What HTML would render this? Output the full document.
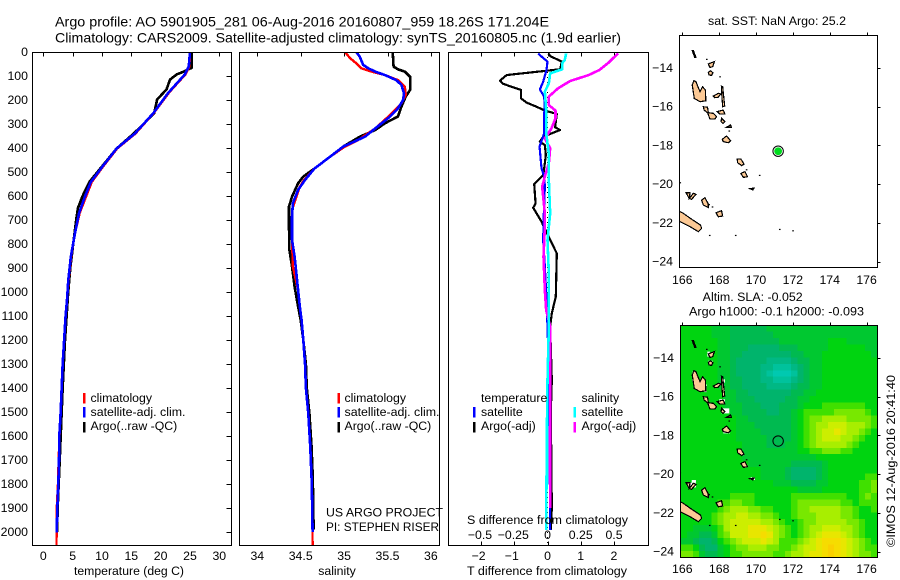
<!DOCTYPE html>
<html>
<head>
<meta charset="utf-8">
<title>Argo profile</title>
<style>
html,body{margin:0;padding:0;background:#fff;}
svg{display:block;font-family:"Liberation Sans",sans-serif;font-size:12.3px;fill:#000;}
</style>
</head>
<body>
<svg id="fig" xmlns="http://www.w3.org/2000/svg" width="900" height="580" viewBox="0 0 900 580">
<defs>
<clipPath id="clip-t"><rect x="32" y="52" width="200" height="493"/></clipPath>
<clipPath id="clip-s"><rect x="239" y="52" width="201" height="493"/></clipPath>
<clipPath id="clip-d"><rect x="448" y="52" width="201" height="493"/></clipPath>
<clipPath id="clip-m1"><rect x="679" y="35" width="199" height="233"/></clipPath>
<clipPath id="clip-m2"><rect x="680" y="325" width="198" height="233"/></clipPath>
</defs>
<rect width="900" height="580" fill="#fff"/>

<text x="55" y="26.5" font-size="14" textLength="494" lengthAdjust="spacingAndGlyphs">Argo profile: AO 5901905_281 06-Aug-2016 20160807_959 18.26S 171.204E</text>
<text x="55" y="42.5" font-size="14" textLength="566" lengthAdjust="spacingAndGlyphs">Climatology: CARS2009. Satellite-adjusted climatology: synTS_20160805.nc (1.9d earlier)</text>

<g id="heat" clip-path="url(#clip-m2)"></g>
<g id="nan2" clip-path="url(#clip-m2)"></g>
<g id="land1" clip-path="url(#clip-m1)"></g>
<g id="land2" clip-path="url(#clip-m2)"></g>
<g id="ticks"></g>
<g id="lines-t" clip-path="url(#clip-t)"></g>
<g id="lines-s" clip-path="url(#clip-s)"></g>
<g id="lines-d" clip-path="url(#clip-d)"></g>

<rect x="32.5" y="52.5" width="199" height="493" fill="none" stroke="#000" shape-rendering="crispEdges"/>
<rect x="239.5" y="52.5" width="200" height="493" fill="none" stroke="#000" shape-rendering="crispEdges"/>
<rect x="448.5" y="52.5" width="200" height="493" fill="none" stroke="#000" shape-rendering="crispEdges"/>
<rect x="679.5" y="35.5" width="198" height="232" fill="none" stroke="#000" shape-rendering="crispEdges"/>
<rect x="680.5" y="325.5" width="197" height="232" fill="none" stroke="#000" shape-rendering="crispEdges"/>

<g id="labels"></g>

<text x="74" y="575" textLength="110" lengthAdjust="spacingAndGlyphs">temperature (deg C)</text>
<text x="337" y="575" text-anchor="middle">salinity</text>
<text x="467" y="575" textLength="160" lengthAdjust="spacingAndGlyphs">T difference from climatology</text>
<text x="467" y="524" textLength="161" lengthAdjust="spacingAndGlyphs">S difference from climatology</text>

<g>
<rect x="83" y="393" width="2.5" height="10.5" fill="#f00"/>
<rect x="83" y="407" width="2.5" height="10.5" fill="#00f"/>
<rect x="83" y="422" width="2.5" height="10.5" fill="#000"/>
<text x="90.5" y="402">climatology</text>
<text x="90.5" y="416" textLength="95" lengthAdjust="spacingAndGlyphs">satellite-adj. clim.</text>
<text x="90.5" y="430">Argo(..raw -QC)</text>
</g>
<g>
<rect x="337.5" y="393" width="2.5" height="10.5" fill="#f00"/>
<rect x="337.5" y="407" width="2.5" height="10.5" fill="#00f"/>
<rect x="337.5" y="422" width="2.5" height="10.5" fill="#000"/>
<text x="344.5" y="402">climatology</text>
<text x="344.5" y="416" textLength="95" lengthAdjust="spacingAndGlyphs">satellite-adj. clim.</text>
<text x="344.5" y="430">Argo(..raw -QC)</text>
</g>
<g>
<text x="481" y="402">temperature</text>
<text x="581.5" y="402">salinity</text>
<rect x="473" y="407" width="2.5" height="10.5" fill="#00f"/>
<rect x="473" y="422" width="2.5" height="10.5" fill="#000"/>
<rect x="573.5" y="407" width="2.5" height="10.5" fill="#0ff"/>
<rect x="573.5" y="422" width="2.5" height="10.5" fill="#f0f"/>
<text x="481" y="416">satellite</text>
<text x="481" y="430">Argo(-adj)</text>
<text x="581.5" y="416">satellite</text>
<text x="581.5" y="430">Argo(-adj)</text>
</g>

<text x="326" y="516.5" textLength="117" lengthAdjust="spacingAndGlyphs">US ARGO PROJECT</text>
<text x="326" y="531" textLength="113" lengthAdjust="spacingAndGlyphs">PI: STEPHEN RISER</text>

<text x="708" y="25" textLength="138" lengthAdjust="spacingAndGlyphs">sat. SST: NaN Argo: 25.2</text>
<text x="702.7" y="301" textLength="100" lengthAdjust="spacingAndGlyphs">Altim. SLA: -0.052</text>
<text x="689" y="315.5" textLength="175" lengthAdjust="spacingAndGlyphs">Argo h1000: -0.1 h2000: -0.093</text>
<text transform="translate(895,547) rotate(-90)" textLength="172" lengthAdjust="spacingAndGlyphs">©IMOS 12-Aug-2016 20:41:40</text>
</svg>

<script>
// ---------- depth axis + profile data ----------
const depthTicks = [0,100,200,300,400,500,600,700,800,900,1000,1100,1200,1300,1400,1500,1600,1700,1800,1900,2000];
const tempTicks = [0,5,10,15,20,25,30];
const salTicks = [34,34.5,35,35.5,36];
const salTickLabels = ['34','34.5','35','35.5','36'];
const tDiffTicks = [-2,-1,0,1,2];
const tDiffTickLabels = ['−2','−1','0','1','2'];
const sDiffTicks = [-0.5,-0.25,0,0.25,0.5];
const sDiffTickLabels = ['−0.5','−0.25','0','0.25','0.5'];
const lonTicks = [166,168,170,172,174,176];
const latTicks = [14,16,18,20,22,24];

const tempClimDepth = [0,60,94,170,255,340,402,480,542,602,671,755,852,950,1033,1100,1200,1300,1400,1500,1600,1700,1800,1900,2054];
const tempClim = [25.0,24.9,24.2,21.4,18.8,15.7,12.6,10.1,8.25,7.3,6.2,5.4,4.75,4.3,4.05,3.8,3.55,3.3,3.13,2.96,2.76,2.62,2.5,2.3,2.25];
const tempSatDepth = [0,60,94,170,255,340,402,480,542,602,671,755,852,950,1033,1100,1200,1300,1400,1500,1600,1700,1800,1900,2002];
const tempSat = [25.0,24.8,24.1,21.3,18.75,15.6,12.5,10.0,8.1,7.1,6.1,5.4,4.7,4.26,4.04,3.8,3.55,3.3,3.13,2.96,2.73,2.68,2.56,2.39,2.28];
const tempArgoDepth = [0,66,80,94,115,156,198,255,302,340,402,480,540,600,650,700,800,900,1000,1200,1400,1700,1900,2000];
const tempArgo = [25.3,25.3,24.1,22.7,21.6,21,19.4,18.9,17,15.4,12.5,9.9,7.9,6.7,5.9,5.6,5.1,4.6,4.25,3.7,3.3,2.8,2.45,2.35];

const salClimDepth = [0,26,47,68,82,96,117,144,179,214,269,318,367,394,436,485,533,561,658,783,894,992,1061,1117,1200,1300,1400,1504,1644,1783,1922,2054];
const salClim = [35.01,35.07,35.14,35.2,35.32,35.47,35.62,35.7,35.71,35.66,35.51,35.36,35.16,35.01,34.84,34.66,34.54,34.49,34.4,34.4,34.41,34.47,34.49,34.51,34.53,34.55,34.56,34.587,34.61,34.626,34.634,34.637];
const salSatDepth = [0,19,54,68,82,96,117,137,172,200,235,269,318,353,394,436,485,533,575,630,686,783,853,922,992,1061,1117,1200,1300,1400,1504,1644,1783,1922,2000];
const salSat = [35.14,35.18,35.22,35.28,35.36,35.47,35.6,35.66,35.69,35.68,35.62,35.53,35.36,35.24,34.99,34.84,34.66,34.55,34.47,34.41,34.4,34.4,34.43,34.45,34.47,34.49,34.51,34.53,34.55,34.56,34.587,34.61,34.626,34.634,34.637];
const salArgoDepth = [0,61,72,82,103,158,186,228,269,297,325,353,394,436,485,519,547,603,644,728,825,894,978,1061,1117,1200,1300,1400,1504,1644,1783,1922,1990];
const salArgo = [35.56,35.57,35.62,35.7,35.76,35.76,35.71,35.66,35.62,35.47,35.36,35.18,34.99,34.84,34.66,34.53,34.47,34.4,34.365,34.365,34.37,34.4,34.43,34.47,34.5,34.53,34.56,34.57,34.6,34.625,34.64,34.645,34.65];

const diffTArgoDepth = [6,17,40,72,96,119,133,158,193,211,228,244,258,314,325,353,374,388,429,485,512,550,631,649,707,769,839,1019,1089,1144,1367,1500,1900,1992];
const diffTArgo = [0.03,0.08,0.43,0.38,-1.23,-1.43,-1.33,-0.8,-0.8,-0.63,-0.33,-0.08,0.28,0.23,0.38,-0.13,-0.23,-0.08,-0.05,-0.1,-0.13,-0.4,-0.36,-0.43,-0.18,0.03,0.28,0.25,0.13,0.08,0.13,0.1,0.13,0.1];
const diffTSatDepth = [6,19,40,75,124,156,186,228,269,339,394,485,519,561,672,783,894,1033,1144,1367,1992];
const diffTSat = [-0.28,-0.18,0,-0.03,-0.13,-0.23,-0.1,-0.08,-0.11,-0.1,-0.24,-0.18,-0.1,-0.08,-0.11,-0.13,-0.08,-0.03,0,0.05,0.08];
const diffSArgoDepth = [6,44,75,96,121,151,186,221,244,276,318,360,401,464,519,561,672,728,853,992,1075,1144,1400,1900];
const diffSArgo = [0.53,0.46,0.39,0.31,0.17,0.08,0.01,0.01,0.06,0.06,0.03,-0.02,0.02,0.01,-0.02,-0.04,-0.02,-0.02,-0.03,-0.02,-0.01,0.02,0.02,0.02];
const diffSSatDepth = [6,33,47,72,89,131,165,242,339,422,533,672,783,922,1144,1367,1600,1992];
const diffSSat = [0.14,0.13,0.11,0.11,0.02,0.01,-0.02,-0.01,-0.01,0.01,0.01,0.02,0,0.01,0.01,0,-0.005,-0.01];

// ---------- altimetry heatmap (sea-level anomaly colour level per 1/3 degree cell) ----------
const heatLonStart = 165.91;
const heatLatStart = 12.3;
const heatStep = 1/3;
const heatValues = [
[0,0,0,0,0,-1,-1,-1,-2,-2,-2,-2,-2,-2,-1,-1,-1,-1,-1,-1,-1,-1,-1,-1,-1,-1,-1,-1,-1,-1,-1,-1],
[0,0,0,0,0,-1,-1,-1,-2,-2,-2,-2,-2,-2,-2,-1,-1,-1,-1,-1,-1,-1,-1,-1,-1,-1,-1,-1,-1,-1,-1,-1],
[0,0,0,0,0,0,-1,-1,-2,-2,-2,-2,-2,-2,-2,-2,-1,-1,-1,-1,-1,-1,-1,-1,0,0,0,-1,-1,-1,-1,-1],
[0,0,0,0,0,0,-1,-1,-2,-2,-2,-3,-3,-3,-3,-3,-2,-2,-2,-1,-1,-1,-1,-1,0,0,0,0,0,0,-1,-1],
[0,0,0,0,0,0,-1,-1,-2,-2,-3,-3,-3,-3,-3,-3,-3,-3,-2,-2,-1,-1,-1,0,0,0,0,0,0,0,0,-1],
[0,0,0,0,0,0,-1,-1,-2,-3,-3,-3,-3,-3,-4,-4,-4,-4,-3,-2,-2,-1,-1,0,0,0,0,0,0,0,0,0],
[0,0,0,0,0,0,-1,-1,-2,-3,-3,-3,-3,-4,-4,-5,-5,-5,-4,-3,-2,-1,-1,0,0,0,0,0,0,0,0,0],
[0,0,0,0,0,0,-1,-1,-2,-3,-3,-3,-3,-4,-5,-6,-6,-6,-5,-3,-2,-1,-1,0,0,0,0,0,0,0,0,0],
[0,0,0,0,0,0,-1,-1,-2,-2,-3,-3,-3,-4,-4,-5,-5,-5,-4,-3,-2,-1,-1,0,0,0,0,0,0,0,0,0],
[0,0,0,0,0,0,-1,-1,-2,-2,-3,-3,-3,-3,-4,-4,-4,-4,-3,-2,-2,-1,-1,0,0,0,0,0,0,0,0,0],
[0,0,0,0,0,0,0,-1,-1,-2,-2,-3,-3,-3,-3,-3,-3,-3,-2,-2,-1,-1,0,0,0,0,0,0,0,0,0,0],
[0,0,0,0,0,0,0,-1,-1,-2,-2,-2,-3,-3,-3,-3,-3,-2,-2,-1,-1,0,0,0,0,0,0,0,0,0,0,0],
[0,0,0,0,0,0,0,-1,-1,-1,-2,-2,-2,-3,-3,-3,-2,-2,-2,-1,0,0,0,1,1,1,1,1,1,1,0,0],
[0,0,0,0,0,0,0,0,-1,-1,-2,-2,-2,-2,-3,-3,-2,-2,-1,0,1,1,1,1,1,2,2,2,2,2,1,0],
[0,0,0,0,0,0,0,0,0,-1,-1,-2,-2,-2,-2,-2,-2,-2,-1,0,1,2,2,3,3,3,3,2,2,2,2,1],
[0,0,0,0,0,0,0,0,0,-1,-1,-1,-2,-2,-2,-2,-2,-2,-1,0,1,2,3,3,4,4,4,3,3,3,2,1],
[0,0,0,0,0,0,0,0,0,-1,-1,-1,-1,-2,-2,-2,-2,-2,-1,0,1,2,3,4,4,5,4,3,3,2,1,0],
[0,0,0,0,0,0,0,0,0,-1,-1,-1,-1,-1,-2,-2,-2,-2,-1,0,1,2,3,4,4,4,3,3,2,1,0,0],
[0,0,0,0,0,0,0,0,0,0,-1,-1,-1,-1,-2,-2,-2,-1,-1,0,1,2,3,3,3,3,3,2,1,0,0,0],
[0,0,0,0,0,0,0,0,0,0,-1,-1,-1,-1,-1,-1,-1,-1,-1,0,0,1,1,2,2,2,1,1,0,0,0,0],
[0,0,0,0,0,0,0,0,0,0,-1,-1,-1,-1,-1,-1,-1,-1,-1,-1,-1,-1,0,0,0,0,0,0,0,0,0,0],
[0,0,0,0,0,0,0,0,0,0,0,-1,-1,-1,-1,-1,-1,-1,-2,-2,-2,-2,-2,-1,0,0,0,0,0,0,0,0],
[0,0,0,0,0,0,0,0,0,0,0,0,0,-1,-1,-1,-1,-2,-3,-3,-3,-3,-2,-1,0,0,0,0,0,0,0,0],
[0,0,0,0,0,0,0,0,0,0,0,0,0,-1,-1,-1,-1,-2,-3,-3,-3,-3,-2,-1,0,0,0,0,0,0,1,1],
[0,0,0,0,0,0,0,0,0,0,0,0,0,0,0,-1,-1,-1,-2,-2,-2,-2,-1,-1,0,0,0,0,0,1,1,2],
[0,0,0,0,0,0,0,0,0,0,0,0,0,0,0,0,0,0,0,-1,-1,-1,-1,0,0,0,0,0,0,1,1,2],
[0,0,0,0,0,0,0,0,1,1,1,1,0,0,0,0,0,0,1,1,1,1,1,1,1,1,1,0,0,1,2,1],
[0,0,0,0,0,0,1,1,2,2,1,1,0,0,0,0,0,0,1,2,2,2,2,2,2,2,1,1,0,1,1,1],
[0,0,0,0,0,0,1,2,3,3,3,2,2,1,1,0,0,0,1,2,2,3,3,3,3,3,2,2,1,0,0,1],
[0,0,0,0,0,1,2,3,3,4,4,3,3,2,2,1,0,0,1,2,2,2,3,3,3,3,2,2,1,0,0,0],
[0,0,0,0,0,1,2,3,4,4,4,4,4,3,3,2,1,0,0,1,2,2,3,3,3,3,3,2,2,1,0,0],
[0,0,-1,-1,-1,0,1,3,4,4,4,5,5,5,4,3,2,1,0,1,2,3,3,4,4,4,3,3,2,1,0,0],
[0,-1,-1,-2,-2,-1,1,2,4,4,4,5,5,6,5,3,2,1,0,1,2,3,4,5,5,5,4,3,2,1,0,0],
[-1,-1,-2,-3,-3,-2,0,1,2,3,4,4,4,5,4,3,1,1,1,2,3,4,5,6,6,6,5,4,3,2,1,0],
[1,1,0,-2,-3,-3,-1,0,1,2,2,3,3,3,2,2,1,1,2,3,4,4,5,6,7,6,5,4,3,2,1,1],
[2,2,1,-1,-2,-2,-1,0,1,1,2,2,2,2,2,1,1,2,3,3,4,5,5,6,7,6,5,4,3,2,2,1]
];
const heatColours = {
'-6':'#00c9b0','-5':'#00c29c','-4':'#00b884','-3':'#00b46c','-2':'#00ba50','-1':'#00c830',
'0':'#00d410','1':'#40e000','2':'#78e800','3':'#a8ee00','4':'#ccee00','5':'#e8e600','6':'#f6dc00','7':'#fad000'
};

// ---------- geography: [lon, lat] vertices of coastline ----------
const islandPolys = [
[[166.63,14.65],[166.54,14.88],[166.65,15.57],[166.96,15.74],[167.28,15.69],[167.25,15.14],[167.10,14.96],[166.96,15.22],[166.74,14.71]],
[[167.14,16.0],[167.37,16.03],[167.41,16.31],[167.68,16.34],[167.86,16.51],[167.77,16.63],[167.5,16.63],[167.37,16.31],[167.18,16.17]],
[[167.68,15.45],[167.95,15.31],[168.08,15.34],[167.95,15.51],[167.77,15.53]],
[[168.12,14.93],[168.19,14.96],[168.30,15.96],[168.19,16.0],[168.15,15.48]],
[[167.9,16.25],[168.22,16.17],[168.31,16.38],[168.04,16.38]],
[[168.13,16.6],[168.31,16.77],[168.22,16.86],[168.1,16.77]],
[[168.4,17.06],[168.62,16.94],[168.66,17.06]],
[[168.17,17.68],[168.4,17.51],[168.62,17.75],[168.5,17.86],[168.22,17.8]],
[[168.98,18.7],[169.18,18.7],[169.35,18.96],[169.22,19.04],[169.0,18.89]],
[[169.18,19.44],[169.4,19.35],[169.53,19.61],[169.31,19.65]],
[[169.67,20.23],[169.89,20.2],[169.82,20.3]],
[[166.54,13.1],[166.6,13.1],[166.74,13.45],[166.67,13.45]],
[[167.41,13.79],[167.74,13.67],[167.65,13.93],[167.5,13.97]],
[[167.41,14.22],[167.54,14.15],[167.66,14.24],[167.59,14.38],[167.45,14.36]],
[[165.84,21.4],[166.05,21.5],[166.51,21.81],[166.99,22.11],[167.05,22.28],[166.87,22.45],[166.42,22.19],[165.87,21.93],[165.84,21.88]],
[[166.2,20.44],[166.42,20.44],[166.38,20.73],[166.6,20.47],[166.74,20.52],[166.51,20.78],[166.38,20.73]],
[[167.05,20.82],[167.23,20.7],[167.41,21.02],[167.41,21.2],[167.14,21.07]],
[[167.83,21.47],[168.13,21.37],[168.19,21.64],[167.95,21.68]]
];
const islandDots = [[170.21,19.54],[168.06,14.45],[167.34,13.55],[167.5,22.64],[168.91,22.64],[171.3,22.33],[172.02,22.4],[165.9,19.92],[167.65,21.17],[167.47,21.05],[168.56,17.25],[169.5,19.25]];
const missingPatches = [
[166.54,14.71,166.65,15.22],[167.19,15.36,167.32,15.76],[167.36,13.67,167.5,13.93],[167.41,14.14,167.65,14.36],
[168.13,15.10,168.31,15.27],[168.19,15.65,168.31,16.0],[168.0,16.13,168.31,16.34],[168.13,16.6,168.55,16.86],
[168.22,17.75,168.59,17.89],[169.13,18.89,169.35,19.03],[169.27,19.52,169.53,19.66],[169.71,20.16,169.94,20.3],
[166.33,20.44,166.74,20.68],[166.51,20.3,166.74,20.44]
];
const argoLon = 171.2;
const argoLat = 18.26;

// ---------- axis functions ----------
const yDepth = d => 52 + d * 0.24;
const xTemp = t => 43.3 + t * 5.867;
const xSal = s => 257.3 + (s - 34) * 86.8;
const xTDiff = t => 547.5 + t * 33.2;
const xSDiff = s => 547.5 + s * 133;
const xLon = l => 682.3 + (l - 166) * 18.43;
const yLat1 = l => 68 + (l - 14) * 19.37;
const yLat2 = l => 358 + (l - 14) * 19.37;

const NS = 'http://www.w3.org/2000/svg';
function mk(tag, parent) {
  const el = document.createElementNS(NS, tag);
  document.getElementById(parent).appendChild(el);
  return el;
}
function profile(parent, xs, ds, xf, colour, width) {
  const el = mk('polyline', parent);
  el.setAttribute('points', xs.map((v, i) => xf(v).toFixed(2) + ',' + yDepth(ds[i]).toFixed(2)).join(' '));
  el.setAttribute('fill', 'none');
  el.setAttribute('stroke', colour);
  el.setAttribute('stroke-width', width);
  el.setAttribute('stroke-linejoin', 'round');
  el.setAttribute('shape-rendering', 'crispEdges');
  return el;
}

// heatmap
heatValues.forEach((row, r) => {
  row.forEach((v, c) => {
    const x0 = xLon(heatLonStart + c * heatStep);
    const x1 = xLon(heatLonStart + (c + 1) * heatStep);
    const y0 = yLat2(heatLatStart + r * heatStep);
    const y1 = yLat2(heatLatStart + (r + 1) * heatStep);
    const el = mk('rect', 'heat');
    
    
    el.setAttribute('x', x0.toFixed(2));
    el.setAttribute('y', y0.toFixed(2));
    el.setAttribute('width', (x1 - x0 + 0.5).toFixed(2));
    el.setAttribute('height', (y1 - y0 + 0.5).toFixed(2));
    el.setAttribute('fill', heatColours[String(v)]);
    el.setAttribute('shape-rendering', 'crispEdges');
  });
});
missingPatches.forEach(p => {
  const el = mk('rect', 'nan2');
  
  
  el.setAttribute('x', xLon(p[0]).toFixed(2));
  el.setAttribute('y', yLat2(p[1]).toFixed(2));
  el.setAttribute('width', (xLon(p[2]) - xLon(p[0])).toFixed(2));
  el.setAttribute('height', (yLat2(p[3]) - yLat2(p[1])).toFixed(2));
  el.setAttribute('fill', '#fff');
});

// coastlines on both maps
[['land1', yLat1], ['land2', yLat2]].forEach(([g, yf]) => {
  islandPolys.forEach(poly => {
    const el = mk('polygon', g);
    
    
    el.setAttribute('points', poly.map(p => xLon(p[0]).toFixed(2) + ',' + yf(p[1]).toFixed(2)).join(' '));
    el.setAttribute('fill', '#fcc995');
    el.setAttribute('stroke', '#000');
    el.setAttribute('stroke-width', '1.2');
    el.setAttribute('shape-rendering', 'crispEdges');
  });
  islandDots.forEach(p => {
    const el = mk('rect', g);
    
    
    el.setAttribute('x', (xLon(p[0]) - 1).toFixed(2));
    el.setAttribute('y', (yf(p[1]) - 0.5).toFixed(2));
    el.setAttribute('width', '1.6');
    el.setAttribute('height', '1.2');
    el.setAttribute('fill', '#000');
  });
});

// Argo float markers
const m1Ring = mk('circle', 'land1');


m1Ring.setAttribute('cx', xLon(argoLon));
m1Ring.setAttribute('cy', yLat1(argoLat) + 0.7);
m1Ring.setAttribute('r', '4.2');
m1Ring.setAttribute('fill', '#00dc1e');
m1Ring.setAttribute('stroke', '#fff');
m1Ring.setAttribute('stroke-width', '0.6');
const m1Out = mk('circle', 'land1');


m1Out.setAttribute('cx', xLon(argoLon));
m1Out.setAttribute('cy', yLat1(argoLat) + 0.7);
m1Out.setAttribute('r', '5.2');
m1Out.setAttribute('fill', 'none');
m1Out.setAttribute('stroke', '#000');
m1Out.setAttribute('stroke-width', '1');
const m2 = mk('circle', 'land2');


m2.setAttribute('cx', xLon(argoLon));
m2.setAttribute('cy', yLat2(argoLat) + 0.5);
m2.setAttribute('r', '5.2');
m2.setAttribute('fill', 'none');
m2.setAttribute('stroke', '#000');
m2.setAttribute('stroke-width', '1');

// profile lines
let e;
e = profile('lines-t', tempArgo, tempArgoDepth, xTemp, '#000', 2.6);


e = profile('lines-t', tempClim, tempClimDepth, xTemp, '#f00', 2.4);


e = profile('lines-t', tempSat, tempSatDepth, xTemp, '#00f', 2.6);



e = profile('lines-s', salArgo, salArgoDepth, xSal, '#000', 2.6);


e = profile('lines-s', salClim, salClimDepth, xSal, '#f00', 2.4);


e = profile('lines-s', salSat, salSatDepth, xSal, '#00f', 2.6);



const zeroLine = mk('line', 'lines-d');


zeroLine.setAttribute('x1', xTDiff(0));
zeroLine.setAttribute('x2', xTDiff(0));
zeroLine.setAttribute('y1', yDepth(0));
zeroLine.setAttribute('y2', yDepth(2054));
zeroLine.setAttribute('stroke', '#000');
zeroLine.setAttribute('stroke-dasharray', '1 4');

e = profile('lines-d', diffTArgo, diffTArgoDepth, xTDiff, '#000', 2.2);


e = profile('lines-d', diffTSat, diffTSatDepth, xTDiff, '#00f', 2.2);


e = profile('lines-d', diffSArgo, diffSArgoDepth, xSDiff, '#f0f', 2.6);


e = profile('lines-d', diffSSat, diffSSatDepth, xSDiff, '#0ff', 2.6);



// ticks
function tick(x1, y1, x2, y2) {
  const el = mk('line', 'ticks');
  
  
  el.setAttribute('x1', x1);
  el.setAttribute('y1', y1);
  el.setAttribute('x2', x2);
  el.setAttribute('y2', y2);
  el.setAttribute('stroke', '#000');
  el.setAttribute('shape-rendering', 'crispEdges');
}
function label(text, x, y, anchor) {
  const el = mk('text', 'labels');
  
  
  el.setAttribute('x', x);
  el.setAttribute('y', y);
  el.setAttribute('text-anchor', anchor);
  el.textContent = text;
}
const snap = v => Math.round(v) + 0.5;

depthTicks.forEach(d => {
  tick(226.5, snap(yDepth(d)), 231.5, snap(yDepth(d)));
  label(String(d), 28, yDepth(d) + 4, 'end');
});
tempTicks.forEach(t => {
  tick(snap(xTemp(t)), 52.5, snap(xTemp(t)), 56.5);
  label(String(t), xTemp(t), 560, 'middle');
});
salTicks.forEach((s, i) => {
  tick(snap(xSal(s)), 52.5, snap(xSal(s)), 56.5);
  label(salTickLabels[i], xSal(s), 560, 'middle');
});
tDiffTicks.forEach((t, i) => {
  const x = xTDiff(t);
  tick(snap(x), 52.5, snap(x), 56.5);
  tick(snap(x), 541.5, snap(x), 545.5);
  label(tDiffTickLabels[i], x + (t < 0 ? -2.5 : 0), 560, 'middle');
});
sDiffTicks.forEach((s, i) => {
  label(sDiffTickLabels[i], xSDiff(s) + (s < 0 ? -1 : 0), 539, 'middle');
});
lonTicks.forEach(l => {
  tick(snap(xLon(l)), 32.5, snap(xLon(l)), 35.5);
  tick(snap(xLon(l)), 322.5, snap(xLon(l)), 325.5);
  label(String(l), xLon(l), 284, 'middle');
  label(String(l), xLon(l), 573, 'middle');
});
latTicks.forEach(l => {
  tick(877.5, snap(yLat1(l)), 880.5, snap(yLat1(l)));
  tick(877.5, snap(yLat2(l)), 880.5, snap(yLat2(l)));
  label('−' + l, 673, yLat1(l) + 4, 'end');
  label('−' + l, 674, yLat2(l) + 4, 'end');
});
</script>
</body>
</html>
